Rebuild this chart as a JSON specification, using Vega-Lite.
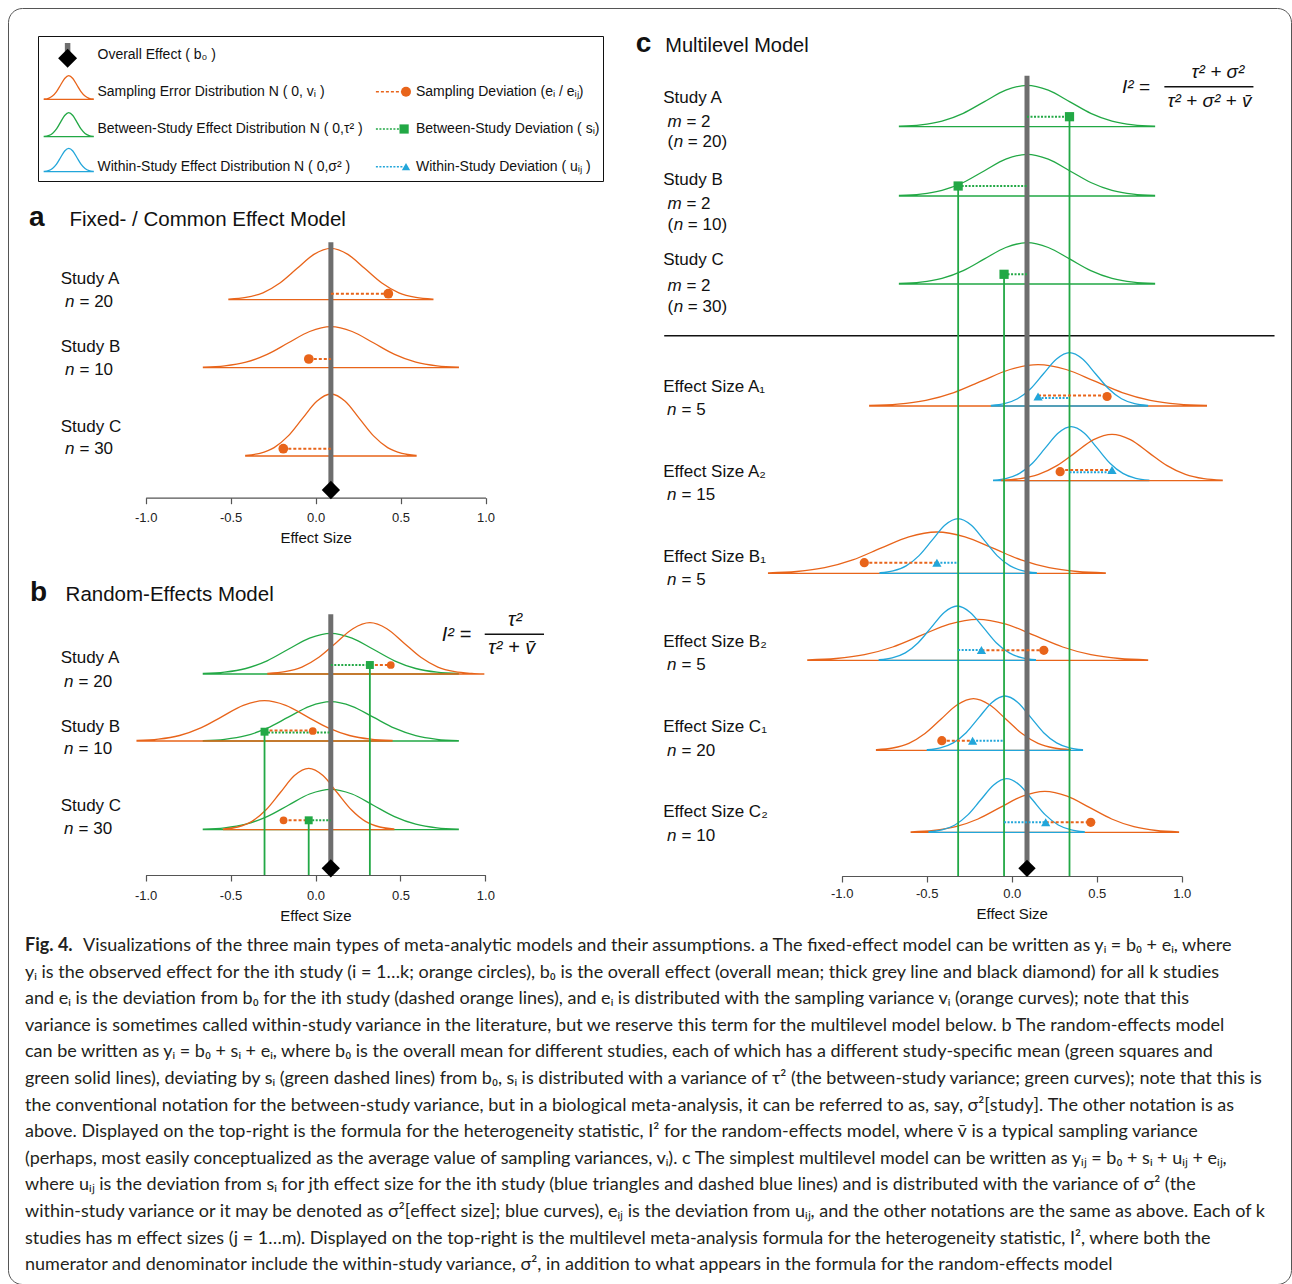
{
"$schema": "https://vega.github.io/schema/vega-lite/v6.json",
"width": 1283, "height": 1276,
"autosize": {"type": "none"},
"padding": {"left": 8, "top": 8, "right": 1, "bottom": 0},
"background": "white",
"config": {
  "view": {"stroke": "#555", "strokeWidth": 1, "cornerRadius": 14},
  "axisX": {"grid": false, "domainColor": "#555", "domainWidth": 1.2, "tickColor": "#555", "tickWidth": 1.2, "tickSize": 6, "labelFont": "Liberation Sans", "labelFontSize": 13, "labelColor": "#222", "labelPadding": 5, "labelFlush": false, "labelOverlap": false, "titleFont": "Liberation Sans", "titleFontSize": 15, "titleFontWeight": "normal", "titleColor": "#111", "titlePadding": 6},
  "text": {"font": "Liberation Sans", "color": "#111", "align": "left", "baseline": "middle"}
},
"resolve": {"scale": {"x": "independent", "y": "independent", "size": "independent"}},
"datasets": {
 "cinfo": [
  {"c":"aA","p":"a","k":"o","b":19.8},{"c":"aB","p":"a","k":"o","b":13.0},{"c":"aC","p":"a","k":"o","b":4.17},
  {"c":"bAg","p":"b","k":"g","b":20.1},{"c":"bAo","p":"b","k":"o","b":20.1},{"c":"bBg","p":"b","k":"g","b":13.4},{"c":"bBo","p":"b","k":"o","b":13.4},{"c":"bCg","p":"b","k":"g","b":4.53},{"c":"bCo","p":"b","k":"o","b":4.53},
  {"c":"cAg","p":"c","k":"g","b":74.93},{"c":"cBg","p":"c","k":"g","b":68.0},{"c":"cCg","p":"c","k":"g","b":59.2},
  {"c":"A1o","p":"c","k":"o","b":47.0},{"c":"A1b","p":"c","k":"b","b":47.0},
  {"c":"A2o","p":"c","k":"o","b":39.53},{"c":"A2b","p":"c","k":"b","b":39.53},
  {"c":"B1o","p":"c","k":"o","b":30.27},{"c":"B1b","p":"c","k":"b","b":30.27},
  {"c":"B2o","p":"c","k":"o","b":21.57},{"c":"B2b","p":"c","k":"b","b":21.57},
  {"c":"C1o","p":"c","k":"o","b":12.57},{"c":"C1b","p":"c","k":"b","b":12.57},
  {"c":"C2o","p":"c","k":"o","b":4.37},{"c":"C2b","p":"c","k":"b","b":4.37},
  {"c":"Lo","p":"L","k":"o","b":8.22},{"c":"Lg","p":"L","k":"g","b":4.48},{"c":"Lb","p":"L","k":"b","b":0.98}
 ],
 "curves": [
  {"c":"aA","x":-0.51,"y":19.86},{"c":"aA","x":-0.41,"y":20.03},{"c":"aA","x":-0.31,"y":20.49},{"c":"aA","x":-0.21,"y":21.47},{"c":"aA","x":-0.11,"y":22.91},{"c":"aA","x":-0.01,"y":24.33},{"c":"aA","x":0.09,"y":24.93},{"c":"aA","x":0.19,"y":24.33},{"c":"aA","x":0.29,"y":22.91},{"c":"aA","x":0.39,"y":21.47},{"c":"aA","x":0.49,"y":20.49},{"c":"aA","x":0.59,"y":20.03},{"c":"aA","x":0.69,"y":19.86},
  {"c":"aB","x":-0.66,"y":13.05},{"c":"aB","x":-0.535,"y":13.18},{"c":"aB","x":-0.41,"y":13.55},{"c":"aB","x":-0.285,"y":14.33},{"c":"aB","x":-0.16,"y":15.49},{"c":"aB","x":-0.035,"y":16.62},{"c":"aB","x":0.09,"y":17.1},{"c":"aB","x":0.215,"y":16.62},{"c":"aB","x":0.34,"y":15.49},{"c":"aB","x":0.465,"y":14.33},{"c":"aB","x":0.59,"y":13.55},{"c":"aB","x":0.715,"y":13.18},{"c":"aB","x":0.84,"y":13.05},
  {"c":"aC","x":-0.411,"y":4.24},{"c":"aC","x":-0.328,"y":4.44},{"c":"aC","x":-0.244,"y":5.01},{"c":"aC","x":-0.161,"y":6.18},{"c":"aC","x":-0.077,"y":7.93},{"c":"aC","x":0.007,"y":9.64},{"c":"aC","x":0.09,"y":10.37},{"c":"aC","x":0.174,"y":9.64},{"c":"aC","x":0.257,"y":7.93},{"c":"aC","x":0.341,"y":6.18},{"c":"aC","x":0.424,"y":5.01},{"c":"aC","x":0.508,"y":4.44},{"c":"aC","x":0.591,"y":4.24},
  {"c":"bAg","x":-0.66,"y":20.15},{"c":"bAg","x":-0.535,"y":20.28},{"c":"bAg","x":-0.41,"y":20.65},{"c":"bAg","x":-0.285,"y":21.42},{"c":"bAg","x":-0.16,"y":22.57},{"c":"bAg","x":-0.035,"y":23.69},{"c":"bAg","x":0.09,"y":24.17},{"c":"bAg","x":0.215,"y":23.69},{"c":"bAg","x":0.34,"y":22.57},{"c":"bAg","x":0.465,"y":21.42},{"c":"bAg","x":0.59,"y":20.65},{"c":"bAg","x":0.715,"y":20.28},{"c":"bAg","x":0.84,"y":20.15},
  {"c":"bAo","x":-0.28,"y":20.16},{"c":"bAo","x":-0.18,"y":20.33},{"c":"bAo","x":-0.08,"y":20.79},{"c":"bAo","x":0.02,"y":21.77},{"c":"bAo","x":0.12,"y":23.21},{"c":"bAo","x":0.22,"y":24.63},{"c":"bAo","x":0.32,"y":25.23},{"c":"bAo","x":0.42,"y":24.63},{"c":"bAo","x":0.52,"y":23.21},{"c":"bAo","x":0.62,"y":21.77},{"c":"bAo","x":0.72,"y":20.79},{"c":"bAo","x":0.82,"y":20.33},{"c":"bAo","x":0.92,"y":20.16},{"c":"bAo","x":0.99,"y":20.11},
  {"c":"bBg","x":-0.66,"y":13.44},{"c":"bBg","x":-0.535,"y":13.57},{"c":"bBg","x":-0.41,"y":13.93},{"c":"bBg","x":-0.285,"y":14.68},{"c":"bBg","x":-0.16,"y":15.78},{"c":"bBg","x":-0.035,"y":16.87},{"c":"bBg","x":0.09,"y":17.33},{"c":"bBg","x":0.215,"y":16.87},{"c":"bBg","x":0.34,"y":15.78},{"c":"bBg","x":0.465,"y":14.68},{"c":"bBg","x":0.59,"y":13.93},{"c":"bBg","x":0.715,"y":13.57},{"c":"bBg","x":0.84,"y":13.44},
  {"c":"bBo","x":-1.05,"y":13.45},{"c":"bBo","x":-0.925,"y":13.58},{"c":"bBo","x":-0.8,"y":13.95},{"c":"bBo","x":-0.675,"y":14.71},{"c":"bBo","x":-0.55,"y":15.84},{"c":"bBo","x":-0.425,"y":16.96},{"c":"bBo","x":-0.3,"y":17.43},{"c":"bBo","x":-0.175,"y":16.96},{"c":"bBo","x":-0.05,"y":15.84},{"c":"bBo","x":0.075,"y":14.71},{"c":"bBo","x":0.2,"y":13.95},{"c":"bBo","x":0.325,"y":13.58},{"c":"bBo","x":0.45,"y":13.45},
  {"c":"bCg","x":-0.66,"y":4.58},{"c":"bCg","x":-0.535,"y":4.71},{"c":"bCg","x":-0.41,"y":5.08},{"c":"bCg","x":-0.285,"y":5.84},{"c":"bCg","x":-0.16,"y":6.98},{"c":"bCg","x":-0.035,"y":8.1},{"c":"bCg","x":0.09,"y":8.57},{"c":"bCg","x":0.215,"y":8.1},{"c":"bCg","x":0.34,"y":6.98},{"c":"bCg","x":0.465,"y":5.84},{"c":"bCg","x":0.59,"y":5.08},{"c":"bCg","x":0.715,"y":4.71},{"c":"bCg","x":0.84,"y":4.58},
  {"c":"bCo","x":-0.541,"y":4.6},{"c":"bCo","x":-0.458,"y":4.8},{"c":"bCo","x":-0.374,"y":5.36},{"c":"bCo","x":-0.291,"y":6.52},{"c":"bCo","x":-0.207,"y":8.25},{"c":"bCo","x":-0.124,"y":9.95},{"c":"bCo","x":-0.04,"y":10.67},{"c":"bCo","x":0.044,"y":9.95},{"c":"bCo","x":0.127,"y":8.25},{"c":"bCo","x":0.211,"y":6.52},{"c":"bCo","x":0.294,"y":5.36},{"c":"bCo","x":0.378,"y":4.8},{"c":"bCo","x":0.461,"y":4.6},
  {"c":"cAg","x":-0.66,"y":74.98},{"c":"cAg","x":-0.535,"y":75.11},{"c":"cAg","x":-0.41,"y":75.49},{"c":"cAg","x":-0.285,"y":76.27},{"c":"cAg","x":-0.16,"y":77.44},{"c":"cAg","x":-0.035,"y":78.58},{"c":"cAg","x":0.09,"y":79.07},{"c":"cAg","x":0.215,"y":78.58},{"c":"cAg","x":0.34,"y":77.44},{"c":"cAg","x":0.465,"y":76.27},{"c":"cAg","x":0.59,"y":75.49},{"c":"cAg","x":0.715,"y":75.11},{"c":"cAg","x":0.84,"y":74.98},
  {"c":"cBg","x":-0.66,"y":68.05},{"c":"cBg","x":-0.535,"y":68.18},{"c":"cBg","x":-0.41,"y":68.56},{"c":"cBg","x":-0.285,"y":69.35},{"c":"cBg","x":-0.16,"y":70.53},{"c":"cBg","x":-0.035,"y":71.68},{"c":"cBg","x":0.09,"y":72.17},{"c":"cBg","x":0.215,"y":71.68},{"c":"cBg","x":0.34,"y":70.53},{"c":"cBg","x":0.465,"y":69.35},{"c":"cBg","x":0.59,"y":68.56},{"c":"cBg","x":0.715,"y":68.18},{"c":"cBg","x":0.84,"y":68.05},
  {"c":"cCg","x":-0.66,"y":59.25},{"c":"cCg","x":-0.535,"y":59.38},{"c":"cCg","x":-0.41,"y":59.76},{"c":"cCg","x":-0.285,"y":60.54},{"c":"cCg","x":-0.16,"y":61.71},{"c":"cCg","x":-0.035,"y":62.85},{"c":"cCg","x":0.09,"y":63.33},{"c":"cCg","x":0.215,"y":62.85},{"c":"cCg","x":0.34,"y":61.71},{"c":"cCg","x":0.465,"y":60.54},{"c":"cCg","x":0.59,"y":59.76},{"c":"cCg","x":0.715,"y":59.38},{"c":"cCg","x":0.84,"y":59.25},
  {"c":"A1o","x":-0.835,"y":47.05},{"c":"A1o","x":-0.67,"y":47.18},{"c":"A1o","x":-0.505,"y":47.56},{"c":"A1o","x":-0.34,"y":48.34},{"c":"A1o","x":-0.175,"y":49.51},{"c":"A1o","x":-0.01,"y":50.65},{"c":"A1o","x":0.155,"y":51.13},{"c":"A1o","x":0.32,"y":50.65},{"c":"A1o","x":0.485,"y":49.51},{"c":"A1o","x":0.65,"y":48.34},{"c":"A1o","x":0.815,"y":47.56},{"c":"A1o","x":0.98,"y":47.18},{"c":"A1o","x":1.145,"y":47.05},
  {"c":"A1b","x":-0.119,"y":47.06},{"c":"A1b","x":-0.043,"y":47.23},{"c":"A1b","x":0.034,"y":47.72},{"c":"A1b","x":0.111,"y":48.73},{"c":"A1b","x":0.187,"y":50.23},{"c":"A1b","x":0.264,"y":51.7},{"c":"A1b","x":0.34,"y":52.33},{"c":"A1b","x":0.417,"y":51.7},{"c":"A1b","x":0.493,"y":50.23},{"c":"A1b","x":0.57,"y":48.73},{"c":"A1b","x":0.646,"y":47.72},{"c":"A1b","x":0.723,"y":47.23},{"c":"A1b","x":0.799,"y":47.06},
  {"c":"A2b","x":-0.106,"y":39.59},{"c":"A2b","x":-0.03,"y":39.77},{"c":"A2b","x":0.046,"y":40.26},{"c":"A2b","x":0.122,"y":41.28},{"c":"A2b","x":0.198,"y":42.81},{"c":"A2b","x":0.274,"y":44.3},{"c":"A2b","x":0.35,"y":44.93},{"c":"A2b","x":0.426,"y":44.3},{"c":"A2b","x":0.502,"y":42.81},{"c":"A2b","x":0.578,"y":41.28},{"c":"A2b","x":0.654,"y":40.26},{"c":"A2b","x":0.73,"y":39.77},{"c":"A2b","x":0.806,"y":39.59},
  {"c":"A2o","x":-0.058,"y":39.58},{"c":"A2o","x":0.05,"y":39.73},{"c":"A2o","x":0.158,"y":40.16},{"c":"A2o","x":0.266,"y":41.04},{"c":"A2o","x":0.374,"y":42.34},{"c":"A2o","x":0.482,"y":43.63},{"c":"A2o","x":0.59,"y":44.17},{"c":"A2o","x":0.698,"y":43.63},{"c":"A2o","x":0.806,"y":42.34},{"c":"A2o","x":0.914,"y":41.04},{"c":"A2o","x":1.022,"y":40.16},{"c":"A2o","x":1.13,"y":39.73},{"c":"A2o","x":1.238,"y":39.58},
  {"c":"B1o","x":-1.43,"y":30.32},{"c":"B1o","x":-1.265,"y":30.45},{"c":"B1o","x":-1.1,"y":30.83},{"c":"B1o","x":-0.935,"y":31.61},{"c":"B1o","x":-0.77,"y":32.78},{"c":"B1o","x":-0.605,"y":33.92},{"c":"B1o","x":-0.44,"y":34.4},{"c":"B1o","x":-0.275,"y":33.92},{"c":"B1o","x":-0.11,"y":32.78},{"c":"B1o","x":0.055,"y":31.61},{"c":"B1o","x":0.22,"y":30.83},{"c":"B1o","x":0.385,"y":30.45},{"c":"B1o","x":0.55,"y":30.32},
  {"c":"B1b","x":-0.774,"y":30.33},{"c":"B1b","x":-0.698,"y":30.51},{"c":"B1b","x":-0.621,"y":31.01},{"c":"B1b","x":-0.545,"y":32.04},{"c":"B1b","x":-0.468,"y":33.58},{"c":"B1b","x":-0.392,"y":35.09},{"c":"B1b","x":-0.315,"y":35.73},{"c":"B1b","x":-0.239,"y":35.09},{"c":"B1b","x":-0.162,"y":33.58},{"c":"B1b","x":-0.086,"y":32.04},{"c":"B1b","x":-0.009,"y":31.01},{"c":"B1b","x":0.068,"y":30.51},{"c":"B1b","x":0.144,"y":30.33},
  {"c":"B2o","x":-1.199,"y":21.62},{"c":"B2o","x":-1.033,"y":21.75},{"c":"B2o","x":-0.866,"y":22.13},{"c":"B2o","x":-0.7,"y":22.9},{"c":"B2o","x":-0.533,"y":24.06},{"c":"B2o","x":-0.367,"y":25.19},{"c":"B2o","x":-0.2,"y":25.67},{"c":"B2o","x":-0.034,"y":25.19},{"c":"B2o","x":0.133,"y":24.06},{"c":"B2o","x":0.3,"y":22.9},{"c":"B2o","x":0.466,"y":22.13},{"c":"B2o","x":0.633,"y":21.75},{"c":"B2o","x":0.799,"y":21.62},
  {"c":"B2b","x":-0.779,"y":21.63},{"c":"B2b","x":-0.703,"y":21.81},{"c":"B2b","x":-0.626,"y":22.31},{"c":"B2b","x":-0.55,"y":23.33},{"c":"B2b","x":-0.473,"y":24.86},{"c":"B2b","x":-0.397,"y":26.36},{"c":"B2b","x":-0.32,"y":27.0},{"c":"B2b","x":-0.244,"y":26.36},{"c":"B2b","x":-0.167,"y":24.86},{"c":"B2b","x":-0.091,"y":23.33},{"c":"B2b","x":-0.014,"y":22.31},{"c":"B2b","x":0.063,"y":21.81},{"c":"B2b","x":0.139,"y":21.63},
  {"c":"C1o","x":-0.795,"y":12.63},{"c":"C1o","x":-0.7,"y":12.8},{"c":"C1o","x":-0.605,"y":13.27},{"c":"C1o","x":-0.51,"y":14.25},{"c":"C1o","x":-0.415,"y":15.7},{"c":"C1o","x":-0.32,"y":17.12},{"c":"C1o","x":-0.225,"y":17.73},{"c":"C1o","x":-0.13,"y":17.12},{"c":"C1o","x":-0.035,"y":15.7},{"c":"C1o","x":0.06,"y":14.25},{"c":"C1o","x":0.155,"y":13.27},{"c":"C1o","x":0.25,"y":12.8},{"c":"C1o","x":0.345,"y":12.63},
  {"c":"C1b","x":-0.496,"y":12.63},{"c":"C1b","x":-0.42,"y":12.81},{"c":"C1b","x":-0.344,"y":13.31},{"c":"C1b","x":-0.268,"y":14.33},{"c":"C1b","x":-0.192,"y":15.86},{"c":"C1b","x":-0.116,"y":17.36},{"c":"C1b","x":-0.04,"y":18.0},{"c":"C1b","x":0.036,"y":17.36},{"c":"C1b","x":0.112,"y":15.86},{"c":"C1b","x":0.188,"y":14.33},{"c":"C1b","x":0.264,"y":13.31},{"c":"C1b","x":0.34,"y":12.81},{"c":"C1b","x":0.416,"y":12.63},
  {"c":"C2o","x":-0.591,"y":4.42},{"c":"C2o","x":-0.46,"y":4.55},{"c":"C2o","x":-0.329,"y":4.93},{"c":"C2o","x":-0.198,"y":5.7},{"c":"C2o","x":-0.067,"y":6.86},{"c":"C2o","x":0.064,"y":7.99},{"c":"C2o","x":0.195,"y":8.47},{"c":"C2o","x":0.326,"y":7.99},{"c":"C2o","x":0.457,"y":6.86},{"c":"C2o","x":0.588,"y":5.7},{"c":"C2o","x":0.719,"y":4.93},{"c":"C2o","x":0.85,"y":4.55},{"c":"C2o","x":0.981,"y":4.42},
  {"c":"C2b","x":-0.486,"y":4.43},{"c":"C2b","x":-0.41,"y":4.61},{"c":"C2b","x":-0.334,"y":5.1},{"c":"C2b","x":-0.258,"y":6.11},{"c":"C2b","x":-0.182,"y":7.62},{"c":"C2b","x":-0.106,"y":9.1},{"c":"C2b","x":-0.03,"y":9.73},{"c":"C2b","x":0.046,"y":9.1},{"c":"C2b","x":0.122,"y":7.62},{"c":"C2b","x":0.198,"y":6.11},{"c":"C2b","x":0.274,"y":5.1},{"c":"C2b","x":0.35,"y":4.61},{"c":"C2b","x":0.426,"y":4.43},
  {"c":"Lo","x":0.58,"y":8.25},{"c":"Lo","x":0.988,"y":8.32},{"c":"Lo","x":1.395,"y":8.54},{"c":"Lo","x":1.803,"y":8.99},{"c":"Lo","x":2.21,"y":9.65},{"c":"Lo","x":2.618,"y":10.3},{"c":"Lo","x":3.025,"y":10.58},{"c":"Lo","x":3.433,"y":10.3},{"c":"Lo","x":3.84,"y":9.65},{"c":"Lo","x":4.248,"y":8.99},{"c":"Lo","x":4.655,"y":8.54},{"c":"Lo","x":5.063,"y":8.32},{"c":"Lo","x":5.47,"y":8.25},
  {"c":"Lg","x":0.58,"y":4.51},{"c":"Lg","x":0.988,"y":4.59},{"c":"Lg","x":1.395,"y":4.81},{"c":"Lg","x":1.803,"y":5.26},{"c":"Lg","x":2.21,"y":5.94},{"c":"Lg","x":2.618,"y":6.6},{"c":"Lg","x":3.025,"y":6.88},{"c":"Lg","x":3.433,"y":6.6},{"c":"Lg","x":3.84,"y":5.94},{"c":"Lg","x":4.248,"y":5.26},{"c":"Lg","x":4.655,"y":4.81},{"c":"Lg","x":5.063,"y":4.59},{"c":"Lg","x":5.47,"y":4.51},
  {"c":"Lb","x":0.58,"y":1.01},{"c":"Lb","x":0.988,"y":1.08},{"c":"Lb","x":1.395,"y":1.3},{"c":"Lb","x":1.803,"y":1.74},{"c":"Lb","x":2.21,"y":2.4},{"c":"Lb","x":2.618,"y":3.05},{"c":"Lb","x":3.025,"y":3.32},{"c":"Lb","x":3.433,"y":3.05},{"c":"Lb","x":3.84,"y":2.4},{"c":"Lb","x":4.248,"y":1.74},{"c":"Lb","x":4.655,"y":1.3},{"c":"Lb","x":5.063,"y":1.08},{"c":"Lb","x":5.47,"y":1.01}
 ],
 "pts": [
  {"p":"a","k":"o","x":0.428,"y":20.4},{"p":"a","k":"o","x":-0.04,"y":13.87},{"p":"a","k":"o","x":-0.19,"y":4.9},
  {"p":"b","k":"g","x":0.32,"y":21.0},{"p":"b","k":"g","x":-0.3,"y":14.33},{"p":"b","k":"g","x":-0.04,"y":5.47},
  {"p":"b","k":"o","x":0.443,"y":21.0},{"p":"b","k":"o","x":-0.016,"y":14.4},{"p":"b","k":"o","x":-0.188,"y":5.47},
  {"p":"c","k":"g","x":0.34,"y":75.93},{"p":"c","k":"g","x":-0.315,"y":69.0},{"p":"c","k":"g","x":-0.045,"y":60.17},
  {"p":"c","k":"b","x":0.155,"y":47.95},{"p":"c","k":"b","x":0.59,"y":40.6},{"p":"c","k":"b","x":-0.44,"y":31.33},{"p":"c","k":"b","x":-0.178,"y":22.6},{"p":"c","k":"b","x":-0.23,"y":13.53},{"p":"c","k":"b","x":0.2,"y":5.37},
  {"p":"c","k":"o","x":0.561,"y":47.95},{"p":"c","k":"o","x":0.285,"y":40.43},{"p":"c","k":"o","x":-0.867,"y":31.33},{"p":"c","k":"o","x":0.189,"y":22.57},{"p":"c","k":"o","x":-0.411,"y":13.53},{"p":"c","k":"o","x":0.465,"y":5.37},
  {"p":"L","k":"o","x":36.75,"y":8.98},{"p":"L","k":"g","x":36.56,"y":5.25},{"p":"L","k":"b","x":36.75,"y":1.48}
 ],
 "segs": [
  {"p":"a","k":"o","x":0.09,"x2":0.428,"y":20.4},{"p":"a","k":"o","x":-0.04,"x2":0.09,"y":13.87},{"p":"a","k":"o","x":-0.19,"x2":0.09,"y":4.9},
  {"p":"b","k":"g","x":0.09,"x2":0.32,"y":21.0},{"p":"b","k":"o","x":0.32,"x2":0.443,"y":21.0},
  {"p":"b","k":"g","x":-0.3,"x2":0.09,"y":14.25},{"p":"b","k":"o","x":-0.3,"x2":-0.016,"y":14.45},
  {"p":"b","k":"o","x":-0.188,"x2":-0.04,"y":5.47},{"p":"b","k":"g","x":-0.04,"x2":0.09,"y":5.47},
  {"p":"c","k":"g","x":0.09,"x2":0.34,"y":75.93},{"p":"c","k":"g","x":-0.315,"x2":0.09,"y":69.0},{"p":"c","k":"g","x":-0.045,"x2":0.09,"y":60.17},
  {"p":"c","k":"b","x":0.155,"x2":0.34,"y":47.8},{"p":"c","k":"o","x":0.155,"x2":0.561,"y":48.05},
  {"p":"c","k":"b","x":0.34,"x2":0.59,"y":40.37},{"p":"c","k":"o","x":0.285,"x2":0.59,"y":40.6},
  {"p":"c","k":"o","x":-0.867,"x2":-0.44,"y":31.33},{"p":"c","k":"b","x":-0.44,"x2":-0.315,"y":31.33},
  {"p":"c","k":"b","x":-0.315,"x2":-0.178,"y":22.6},{"p":"c","k":"o","x":-0.178,"x2":0.189,"y":22.57},
  {"p":"c","k":"o","x":-0.411,"x2":-0.23,"y":13.53},{"p":"c","k":"b","x":-0.23,"x2":-0.045,"y":13.53},
  {"p":"c","k":"b","x":-0.045,"x2":0.2,"y":5.37},{"p":"c","k":"o","x":0.2,"x2":0.465,"y":5.37},
  {"p":"L","k":"o","x":33.74,"x2":36.4,"y":8.98},{"p":"L","k":"g","x":33.74,"x2":36.3,"y":5.25},{"p":"L","k":"b","x":33.74,"x2":36.4,"y":1.48}
 ],
 "vls": [
  {"p":"b","x":0.32,"y":21.0},{"p":"b","x":-0.3,"y":14.33},{"p":"b","x":-0.04,"y":5.47},
  {"p":"c","x":0.34,"y":75.93},{"p":"c","x":-0.315,"y":69.0},{"p":"c","x":-0.045,"y":60.17}
 ],
 "names": [
  {"p":"a","t":"Study A","y":21.84},{"p":"a","t":"Study B","y":15.07},{"p":"a","t":"Study C","y":7.1},
  {"p":"b","t":"Study A","y":21.67},{"p":"b","t":"Study B","y":14.83},{"p":"b","t":"Study C","y":6.93},
  {"p":"c","t":"Study A","y":77.83},{"p":"c","t":"Study B","y":69.6},{"p":"c","t":"Study C","y":61.57},
  {"p":"c","t":"Effect Size A₁","y":48.93},{"p":"c","t":"Effect Size A₂","y":40.4},{"p":"c","t":"Effect Size B₁","y":31.87},
  {"p":"c","t":"Effect Size B₂","y":23.37},{"p":"c","t":"Effect Size C₁","y":14.87},{"p":"c","t":"Effect Size C₂","y":6.37}
 ],
 "nl": [
  {"p":"a","t":"= 20","y":19.54},{"p":"a","t":"= 10","y":12.77},{"p":"a","t":"= 30","y":4.84},
  {"p":"b","t":"= 20","y":19.33},{"p":"b","t":"= 10","y":12.6},{"p":"b","t":"= 30","y":4.6},
  {"p":"c","t":"= 5","y":46.6},{"p":"c","t":"= 15","y":38.1},{"p":"c","t":"= 5","y":29.6},
  {"p":"c","t":"= 5","y":21.07},{"p":"c","t":"= 20","y":12.53},{"p":"c","t":"= 10","y":4.03}
 ],
 "ml": [{"p":"c","t":"= 2","y":75.43},{"p":"c","t":"= 2","y":67.17},{"p":"c","t":"= 2","y":59.03}],
 "pl": [{"p":"c","t":"= 20)","y":73.37},{"p":"c","t":"= 10)","y":65.1},{"p":"c","t":"= 30)","y":56.9}],
 "legL": [
  {"t":"Overall Effect ( b₀ )","y":12.65},
  {"t":"Sampling Error Distribution N ( 0, vᵢ )","y":8.98},
  {"t":"Between-Study Effect Distribution N ( 0,τ² )","y":5.25},
  {"t":"Within-Study Effect Distribution N ( 0,σ² )","y":1.48}
 ],
 "legR": [
  {"t":"Sampling Deviation (eᵢ / eᵢⱼ)","y":8.98},
  {"t":"Between-Study Deviation ( sᵢ)","y":5.25},
  {"t":"Within-Study Deviation ( uᵢⱼ )","y":1.48}
 ],
 "cap": [
  {"line":1,"t":"Visualizations of the three main types of meta-analytic models and their assumptions. a The fixed-effect model can be written as yᵢ = b₀ + eᵢ, where"},
  {"line":2,"t":"yᵢ is the observed effect for the ith study (i = 1…k; orange circles), b₀ is the overall effect (overall mean; thick grey line and black diamond) for all k studies"},
  {"line":3,"t":"and eᵢ is the deviation from b₀ for the ith study (dashed orange lines), and eᵢ is distributed with the sampling variance vᵢ (orange curves); note that this"},
  {"line":4,"t":"variance is sometimes called within-study variance in the literature, but we reserve this term for the multilevel model below. b The random-effects model"},
  {"line":5,"t":"can be written as yᵢ = b₀ + sᵢ + eᵢ, where b₀ is the overall mean for different studies, each of which has a different study-specific mean (green squares and"},
  {"line":6,"t":"green solid lines), deviating by sᵢ (green dashed lines) from b₀, sᵢ is distributed with a variance of τ² (the between-study variance; green curves); note that this is"},
  {"line":7,"t":"the conventional notation for the between-study variance, but in a biological meta-analysis, it can be referred to as, say, σ²[study]. The other notation is as"},
  {"line":8,"t":"above. Displayed on the top-right is the formula for the heterogeneity statistic, I² for the random-effects model, where v̄ is a typical sampling variance"},
  {"line":9,"t":"(perhaps, most easily conceptualized as the average value of sampling variances, vᵢ). c The simplest multilevel model can be written as yᵢⱼ = b₀ + sᵢ + uᵢⱼ + eᵢⱼ,"},
  {"line":10,"t":"where uᵢⱼ is the deviation from sᵢ for jth effect size for the ith study (blue triangles and dashed blue lines) and is distributed with the variance of σ² (the"},
  {"line":11,"t":"within-study variance or it may be denoted as σ²[effect size]; blue curves), eᵢⱼ is the deviation from uᵢⱼ, and the other notations are the same as above. Each of k"},
  {"line":12,"t":"studies has m effect sizes (j = 1…m). Displayed on the top-right is the multilevel meta-analysis formula for the heterogeneity statistic, I², where both the"},
  {"line":13,"t":"numerator and denominator include the within-study variance, σ², in addition to what appears in the formula for the random-effects model"}
 ]
},
"layer": [
 {"layer": [
  {"data": {"values": [{}]}, "mark": {"type": "rect", "fillOpacity": 0, "stroke": "#111", "strokeWidth": 1},
   "encoding": {"x": {"datum": 0, "type": "quantitative", "scale": {"domain": [0, 56.5], "range": [30.5, 595.5], "nice": false, "zero": false}, "axis": null}, "x2": {"datum": 56.5},
    "y": {"datum": 0, "type": "quantitative", "scale": {"domain": [0, 14.5], "range": [173.5, 28.5], "nice": false, "zero": false}, "axis": null}, "y2": {"datum": 14.5}}},
  {"data": {"name": "curves"}, "transform": [{"lookup": "c", "from": {"data": {"name": "cinfo"}, "key": "c", "fields": ["p", "k", "b"]}}, {"filter": "datum.p == 'L'"}],
   "mark": {"type": "area", "interpolate": "monotone", "fillOpacity": 0, "strokeWidth": 1.3},
   "encoding": {"x": {"field": "x", "type": "quantitative"}, "y": {"field": "y", "type": "quantitative"}, "y2": {"field": "b"}, "detail": {"field": "c"},
    "stroke": {"field": "k", "type": "nominal", "scale": {"domain": ["o", "g", "b"], "range": ["#E8641A", "#22A845", "#22A6DA"]}, "legend": null}}},
  {"data": {"values": [{}]}, "mark": {"type": "rule", "color": "#6e6e6e", "strokeWidth": 5.5},
   "encoding": {"x": {"datum": 2.91}, "y": {"datum": 13.85}, "y2": {"datum": 12.32}}},
  {"data": {"values": [{}]}, "mark": {"type": "point", "shape": "diamond", "filled": true, "color": "#000", "opacity": 1, "size": 360},
   "encoding": {"x": {"datum": 2.91}, "y": {"datum": 12.32}}},
  {"data": {"name": "segs"}, "transform": [{"filter": "datum.p == 'L'"}], "mark": {"type": "rule", "strokeWidth": 1.6},
   "encoding": {"x": {"field": "x", "type": "quantitative"}, "x2": {"field": "x2"}, "y": {"field": "y", "type": "quantitative"},
    "stroke": {"field": "k", "type": "nominal", "scale": {"domain": ["o", "g", "b"], "range": ["#E8641A", "#22A845", "#22A6DA"]}, "legend": null},
    "strokeDash": {"field": "k", "type": "nominal", "scale": {"domain": ["o", "g", "b"], "range": [[3, 2], [2, 1.5], [2, 1.5]]}, "legend": null}}},
  {"data": {"name": "pts"}, "transform": [{"filter": "datum.p == 'L'"}], "mark": {"type": "point", "filled": true, "opacity": 1},
   "encoding": {"x": {"field": "x", "type": "quantitative"}, "y": {"field": "y", "type": "quantitative"},
    "shape": {"field": "k", "type": "nominal", "scale": {"domain": ["o", "g", "b"], "range": ["circle", "square", "triangle-up"]}, "legend": null},
    "fill": {"field": "k", "type": "nominal", "scale": {"domain": ["o", "g", "b"], "range": ["#E8641A", "#22A845", "#22A6DA"]}, "legend": null},
    "size": {"field": "k", "type": "ordinal", "scale": {"domain": ["o", "g", "b"], "range": [100, 70, 60]}, "legend": null}}},
  {"data": {"name": "legL"}, "mark": {"type": "text", "fontSize": 14, "align": "left", "baseline": "middle"},
   "encoding": {"x": {"datum": 5.9}, "y": {"field": "y", "type": "quantitative"}, "text": {"field": "t"}}},
  {"data": {"name": "legR"}, "mark": {"type": "text", "fontSize": 14, "align": "left", "baseline": "middle"},
   "encoding": {"x": {"datum": 37.75}, "y": {"field": "y", "type": "quantitative"}, "text": {"field": "t"}}}
 ]},
 {"layer": [
  {"data": {"name": "curves"}, "transform": [{"lookup": "c", "from": {"data": {"name": "cinfo"}, "key": "c", "fields": ["p", "k", "b"]}}, {"filter": "datum.p == 'a'"}],
   "mark": {"type": "area", "interpolate": "monotone", "fillOpacity": 0, "strokeWidth": 1.3},
   "encoding": {
    "x": {"field": "x", "type": "quantitative", "scale": {"domain": [-1, 1], "range": [137.7, 477.5], "nice": false, "zero": false},
     "axis": {"orient": "bottom", "values": [-1, -0.5, 0, 0.5, 1], "labelExpr": "datum.value < 0 ? '-' + format(-datum.value, '.1f') : format(datum.value, '.1f')", "title": "Effect Size", "offset": -786.3, "labelPadding": 7.5}},
    "y": {"field": "y", "type": "quantitative", "scale": {"domain": [0, 26], "range": [489.7, 229.7], "nice": false, "zero": false}, "axis": null},
    "y2": {"field": "b"}, "detail": {"field": "c"},
    "stroke": {"field": "k", "type": "nominal", "scale": {"domain": ["o", "g", "b"], "range": ["#E8641A", "#22A845", "#22A6DA"]}, "legend": null}}},
  {"data": {"values": [{}]}, "mark": {"type": "rule", "color": "#6e6e6e", "strokeWidth": 5},
   "encoding": {"x": {"datum": 0.09}, "y": {"datum": 25.54}, "y2": {"datum": 0.77}}},
  {"data": {"name": "segs"}, "transform": [{"filter": "datum.p == 'a'"}], "mark": {"type": "rule", "strokeWidth": 2},
   "encoding": {"x": {"field": "x", "type": "quantitative"}, "x2": {"field": "x2"}, "y": {"field": "y", "type": "quantitative"},
    "stroke": {"field": "k", "type": "nominal", "scale": {"domain": ["o", "g", "b"], "range": ["#E8641A", "#22A845", "#22A6DA"]}, "legend": null},
    "strokeDash": {"field": "k", "type": "nominal", "scale": {"domain": ["o", "g", "b"], "range": [[3, 2], [2, 1.5], [2, 1.5]]}, "legend": null}}},
  {"data": {"name": "pts"}, "transform": [{"filter": "datum.p == 'a'"}], "mark": {"type": "point", "filled": true, "opacity": 1},
   "encoding": {"x": {"field": "x", "type": "quantitative"}, "y": {"field": "y", "type": "quantitative"},
    "shape": {"field": "k", "type": "nominal", "scale": {"domain": ["o", "g", "b"], "range": ["circle", "square", "triangle-up"]}, "legend": null},
    "fill": {"field": "k", "type": "nominal", "scale": {"domain": ["o", "g", "b"], "range": ["#E8641A", "#22A845", "#22A6DA"]}, "legend": null},
    "size": {"field": "k", "type": "ordinal", "scale": {"domain": ["o", "g", "b"], "range": [95, 70, 60]}, "legend": null}}},
  {"data": {"values": [{}]}, "mark": {"type": "point", "shape": "diamond", "filled": true, "color": "#000", "opacity": 1, "size": 335},
   "encoding": {"x": {"datum": 0.09}, "y": {"datum": 0.77}}},
  {"data": {"name": "names"}, "transform": [{"filter": "datum.p == 'a'"}], "mark": {"type": "text", "fontSize": 17},
   "encoding": {"x": {"datum": -1.5}, "y": {"field": "y", "type": "quantitative"}, "text": {"field": "t"}}},
  {"data": {"name": "nl"}, "transform": [{"filter": "datum.p == 'a'"}], "mark": {"type": "text", "fontSize": 17, "fontStyle": "italic"},
   "encoding": {"x": {"datum": -1.475}, "y": {"field": "y", "type": "quantitative"}, "text": {"value": "n"}}},
  {"data": {"name": "nl"}, "transform": [{"filter": "datum.p == 'a'"}], "mark": {"type": "text", "fontSize": 17, "dx": 14.5},
   "encoding": {"x": {"datum": -1.475}, "y": {"field": "y", "type": "quantitative"}, "text": {"field": "t"}}},
  {"data": {"values": [{}]}, "mark": {"type": "text", "fontSize": 28, "fontWeight": "bold", "baseline": "alphabetic"},
   "encoding": {"x": {"datum": -1.687}, "y": {"datum": 27.17}, "text": {"value": "a"}}},
  {"data": {"values": [{}]}, "mark": {"type": "text", "fontSize": 20.5, "baseline": "alphabetic"},
   "encoding": {"x": {"datum": -1.449}, "y": {"datum": 27.17}, "text": {"value": "Fixed- / Common Effect Model"}}}
 ]},
 {"layer": [
  {"data": {"name": "curves"}, "transform": [{"lookup": "c", "from": {"data": {"name": "cinfo"}, "key": "c", "fields": ["p", "k", "b"]}}, {"filter": "datum.p == 'b'"}],
   "mark": {"type": "area", "interpolate": "monotone", "fillOpacity": 0, "strokeWidth": 1.3},
   "encoding": {
    "x": {"field": "x", "type": "quantitative", "scale": {"domain": [-1, 1], "range": [137.6, 477.4], "nice": false, "zero": false},
     "axis": {"orient": "bottom", "values": [-1, -0.5, 0, 0.5, 1], "labelExpr": "datum.value < 0 ? '-' + format(-datum.value, '.1f') : format(datum.value, '.1f')", "title": "Effect Size", "offset": -409, "labelPadding": 8}},
    "y": {"field": "y", "type": "quantitative", "scale": {"domain": [0, 26], "range": [867, 607], "nice": false, "zero": false}, "axis": null},
    "y2": {"field": "b"}, "detail": {"field": "c"},
    "stroke": {"field": "k", "type": "nominal", "scale": {"domain": ["o", "g", "b"], "range": ["#E8641A", "#22A845", "#22A6DA"]}, "legend": null}}},
  {"data": {"name": "vls"}, "transform": [{"filter": "datum.p == 'b'"}], "mark": {"type": "rule", "color": "#22A845", "strokeWidth": 1.8},
   "encoding": {"x": {"field": "x", "type": "quantitative"}, "y": {"field": "y", "type": "quantitative"}, "y2": {"datum": 0}}},
  {"data": {"values": [{}]}, "mark": {"type": "rule", "color": "#6e6e6e", "strokeWidth": 5},
   "encoding": {"x": {"datum": 0.09}, "y": {"datum": 26.07}, "y2": {"datum": 0.67}}},
  {"data": {"name": "segs"}, "transform": [{"filter": "datum.p == 'b'"}], "mark": {"type": "rule", "strokeWidth": 2},
   "encoding": {"x": {"field": "x", "type": "quantitative"}, "x2": {"field": "x2"}, "y": {"field": "y", "type": "quantitative"},
    "stroke": {"field": "k", "type": "nominal", "scale": {"domain": ["o", "g", "b"], "range": ["#E8641A", "#22A845", "#22A6DA"]}, "legend": null},
    "strokeDash": {"field": "k", "type": "nominal", "scale": {"domain": ["o", "g", "b"], "range": [[3, 2], [2, 1.5], [2, 1.5]]}, "legend": null}}},
  {"data": {"name": "pts"}, "transform": [{"filter": "datum.p == 'b'"}], "mark": {"type": "point", "filled": true, "opacity": 1},
   "encoding": {"x": {"field": "x", "type": "quantitative"}, "y": {"field": "y", "type": "quantitative"},
    "shape": {"field": "k", "type": "nominal", "scale": {"domain": ["o", "g", "b"], "range": ["circle", "square", "triangle-up"]}, "legend": null},
    "fill": {"field": "k", "type": "nominal", "scale": {"domain": ["o", "g", "b"], "range": ["#E8641A", "#22A845", "#22A6DA"]}, "legend": null},
    "size": {"field": "k", "type": "ordinal", "scale": {"domain": ["o", "g", "b"], "range": [60, 66, 60]}, "legend": null}}},
  {"data": {"values": [{}]}, "mark": {"type": "point", "shape": "diamond", "filled": true, "color": "#000", "opacity": 1, "size": 335},
   "encoding": {"x": {"datum": 0.09}, "y": {"datum": 0.67}}},
  {"data": {"name": "names"}, "transform": [{"filter": "datum.p == 'b'"}], "mark": {"type": "text", "fontSize": 17},
   "encoding": {"x": {"datum": -1.5}, "y": {"field": "y", "type": "quantitative"}, "text": {"field": "t"}}},
  {"data": {"name": "nl"}, "transform": [{"filter": "datum.p == 'b'"}], "mark": {"type": "text", "fontSize": 17, "fontStyle": "italic"},
   "encoding": {"x": {"datum": -1.48}, "y": {"field": "y", "type": "quantitative"}, "text": {"value": "n"}}},
  {"data": {"name": "nl"}, "transform": [{"filter": "datum.p == 'b'"}], "mark": {"type": "text", "fontSize": 17, "dx": 14.5},
   "encoding": {"x": {"datum": -1.48}, "y": {"field": "y", "type": "quantitative"}, "text": {"field": "t"}}},
  {"data": {"values": [{}]}, "mark": {"type": "text", "fontSize": 28, "fontWeight": "bold", "baseline": "alphabetic"},
   "encoding": {"x": {"datum": -1.68}, "y": {"datum": 27.4}, "text": {"value": "b"}}},
  {"data": {"values": [{}]}, "mark": {"type": "text", "fontSize": 20.5, "baseline": "alphabetic"},
   "encoding": {"x": {"datum": -1.471}, "y": {"datum": 27.4}, "text": {"value": "Random-Effects Model"}}},
  {"data": {"values": [{}]}, "mark": {"type": "text", "fontSize": 20, "fontStyle": "italic", "align": "center"},
   "encoding": {"x": {"datum": 0.829}, "y": {"datum": 24.0}, "text": {"value": "I² ="}}},
  {"data": {"values": [{}]}, "mark": {"type": "text", "fontSize": 20, "fontStyle": "italic", "align": "center"},
   "encoding": {"x": {"datum": 1.174}, "y": {"datum": 25.5}, "text": {"value": "τ²"}}},
  {"data": {"values": [{}]}, "mark": {"type": "rule", "color": "#111", "strokeWidth": 1.5},
   "encoding": {"x": {"datum": 0.996}, "x2": {"datum": 1.345}, "y": {"datum": 24.07}}},
  {"data": {"values": [{}]}, "mark": {"type": "text", "fontSize": 20, "fontStyle": "italic", "align": "center"},
   "encoding": {"x": {"datum": 1.155}, "y": {"datum": 22.67}, "text": {"value": "τ² + v̄"}}}
 ]},
 {"layer": [
  {"data": {"name": "curves"}, "transform": [{"lookup": "c", "from": {"data": {"name": "cinfo"}, "key": "c", "fields": ["p", "k", "b"]}}, {"filter": "datum.p == 'c'"}],
   "mark": {"type": "area", "interpolate": "monotone", "fillOpacity": 0, "strokeWidth": 1.3},
   "encoding": {
    "x": {"field": "x", "type": "quantitative", "scale": {"domain": [-1, 1], "range": [833.7, 1173.7], "nice": false, "zero": false},
     "axis": {"orient": "bottom", "values": [-1, -0.5, 0, 0.5, 1], "labelExpr": "datum.value < 0 ? '-' + format(-datum.value, '.1f') : format(datum.value, '.1f')", "title": "Effect Size", "offset": -408, "labelPadding": 5}},
    "y": {"field": "y", "type": "quantitative", "scale": {"domain": [0, 80], "range": [868, 68], "nice": false, "zero": false}, "axis": null},
    "y2": {"field": "b"}, "detail": {"field": "c"},
    "stroke": {"field": "k", "type": "nominal", "scale": {"domain": ["o", "g", "b"], "range": ["#E8641A", "#22A845", "#22A6DA"]}, "legend": null}}},
  {"data": {"values": [{}]}, "mark": {"type": "rule", "color": "#111", "strokeWidth": 1.5},
   "encoding": {"x": {"datum": -2.044}, "x2": {"datum": 1.546}, "y": {"datum": 54.03}}},
  {"data": {"name": "vls"}, "transform": [{"filter": "datum.p == 'c'"}], "mark": {"type": "rule", "color": "#22A845", "strokeWidth": 1.8},
   "encoding": {"x": {"field": "x", "type": "quantitative"}, "y": {"field": "y", "type": "quantitative"}, "y2": {"datum": 0}}},
  {"data": {"values": [{}]}, "mark": {"type": "rule", "color": "#6e6e6e", "strokeWidth": 5},
   "encoding": {"x": {"datum": 0.09}, "y": {"datum": 80.03}, "y2": {"datum": 0.77}}},
  {"data": {"name": "segs"}, "transform": [{"filter": "datum.p == 'c'"}], "mark": {"type": "rule", "strokeWidth": 2},
   "encoding": {"x": {"field": "x", "type": "quantitative"}, "x2": {"field": "x2"}, "y": {"field": "y", "type": "quantitative"},
    "stroke": {"field": "k", "type": "nominal", "scale": {"domain": ["o", "g", "b"], "range": ["#E8641A", "#22A845", "#22A6DA"]}, "legend": null},
    "strokeDash": {"field": "k", "type": "nominal", "scale": {"domain": ["o", "g", "b"], "range": [[3, 2], [2, 1.5], [2, 1.5]]}, "legend": null}}},
  {"data": {"name": "pts"}, "transform": [{"filter": "datum.p == 'c'"}], "mark": {"type": "point", "filled": true, "opacity": 1},
   "encoding": {"x": {"field": "x", "type": "quantitative"}, "y": {"field": "y", "type": "quantitative"},
    "shape": {"field": "k", "type": "nominal", "scale": {"domain": ["o", "g", "b"], "range": ["circle", "square", "triangle-up"]}, "legend": null},
    "fill": {"field": "k", "type": "nominal", "scale": {"domain": ["o", "g", "b"], "range": ["#E8641A", "#22A845", "#22A6DA"]}, "legend": null},
    "size": {"field": "k", "type": "ordinal", "scale": {"domain": ["o", "g", "b"], "range": [85, 85, 65]}, "legend": null}}},
  {"data": {"values": [{}]}, "mark": {"type": "point", "shape": "diamond", "filled": true, "color": "#000", "opacity": 1, "size": 300},
   "encoding": {"x": {"datum": 0.09}, "y": {"datum": 0.77}}},
  {"data": {"name": "names"}, "transform": [{"filter": "datum.p == 'c'"}], "mark": {"type": "text", "fontSize": 17},
   "encoding": {"x": {"datum": -2.05}, "y": {"field": "y", "type": "quantitative"}, "text": {"field": "t"}}},
  {"data": {"name": "nl"}, "transform": [{"filter": "datum.p == 'c'"}], "mark": {"type": "text", "fontSize": 17, "fontStyle": "italic"},
   "encoding": {"x": {"datum": -2.027}, "y": {"field": "y", "type": "quantitative"}, "text": {"value": "n"}}},
  {"data": {"name": "nl"}, "transform": [{"filter": "datum.p == 'c'"}], "mark": {"type": "text", "fontSize": 17, "dx": 14.5},
   "encoding": {"x": {"datum": -2.027}, "y": {"field": "y", "type": "quantitative"}, "text": {"field": "t"}}},
  {"data": {"name": "ml"}, "mark": {"type": "text", "fontSize": 17, "fontStyle": "italic"},
   "encoding": {"x": {"datum": -2.025}, "y": {"field": "y", "type": "quantitative"}, "text": {"value": "m"}}},
  {"data": {"name": "ml"}, "mark": {"type": "text", "fontSize": 17, "dx": 19},
   "encoding": {"x": {"datum": -2.025}, "y": {"field": "y", "type": "quantitative"}, "text": {"field": "t"}}},
  {"data": {"name": "pl"}, "mark": {"type": "text", "fontSize": 17},
   "encoding": {"x": {"datum": -2.025}, "y": {"field": "y", "type": "quantitative"}, "text": {"value": "("}}},
  {"data": {"name": "pl"}, "mark": {"type": "text", "fontSize": 17, "fontStyle": "italic", "dx": 6.4},
   "encoding": {"x": {"datum": -2.025}, "y": {"field": "y", "type": "quantitative"}, "text": {"value": "n"}}},
  {"data": {"name": "pl"}, "mark": {"type": "text", "fontSize": 17, "dx": 20.4},
   "encoding": {"x": {"datum": -2.025}, "y": {"field": "y", "type": "quantitative"}, "text": {"field": "t"}}},
  {"data": {"values": [{}]}, "mark": {"type": "text", "fontSize": 28, "fontWeight": "bold", "baseline": "alphabetic"},
   "encoding": {"x": {"datum": -2.212}, "y": {"datum": 82.43}, "text": {"value": "c"}}},
  {"data": {"values": [{}]}, "mark": {"type": "text", "fontSize": 20, "baseline": "alphabetic"},
   "encoding": {"x": {"datum": -2.038}, "y": {"datum": 82.43}, "text": {"value": "Multilevel Model"}}},
  {"data": {"values": [{}]}, "mark": {"type": "text", "fontSize": 19, "fontStyle": "italic", "align": "center"},
   "encoding": {"x": {"datum": 0.731}, "y": {"datum": 78.93}, "text": {"value": "I² ="}}},
  {"data": {"values": [{}]}, "mark": {"type": "text", "fontSize": 19, "fontStyle": "italic", "align": "center"},
   "encoding": {"x": {"datum": 1.213}, "y": {"datum": 80.43}, "text": {"value": "τ² + σ²"}}},
  {"data": {"values": [{}]}, "mark": {"type": "rule", "color": "#111", "strokeWidth": 1.5},
   "encoding": {"x": {"datum": 0.898}, "x2": {"datum": 1.422}, "y": {"datum": 78.93}}},
  {"data": {"values": [{}]}, "mark": {"type": "text", "fontSize": 19, "fontStyle": "italic", "align": "center"},
   "encoding": {"x": {"datum": 1.163}, "y": {"datum": 77.5}, "text": {"value": "τ² + σ² + v̄"}}}
 ]},
 {"layer": [
  {"data": {"name": "cap"}, "transform": [{"filter": "datum.line > 1"}], "mark": {"type": "text", "font": "Lato", "fontSize": 18, "color": "#231f20"},
   "encoding": {"x": {"datum": 0, "type": "quantitative", "scale": {"domain": [0, 1], "range": [17, 1264], "nice": false, "zero": false}, "axis": null},
    "y": {"field": "line", "type": "quantitative", "scale": {"domain": [1, 13], "range": [938, 1257.2], "nice": false, "zero": false}, "axis": null},
    "text": {"field": "t"}}},
  {"data": {"name": "cap"}, "transform": [{"filter": "datum.line == 1"}], "mark": {"type": "text", "font": "Lato", "fontSize": 18, "color": "#231f20", "dx": 58},
   "encoding": {"x": {"datum": 0}, "y": {"field": "line", "type": "quantitative"}, "text": {"field": "t"}}},
  {"data": {"values": [{}]}, "mark": {"type": "text", "font": "Lato", "fontSize": 18, "fontWeight": "bold", "color": "#231f20"},
   "encoding": {"x": {"datum": 0}, "y": {"datum": 1}, "text": {"value": "Fig. 4."}}}
 ]}
]
}
